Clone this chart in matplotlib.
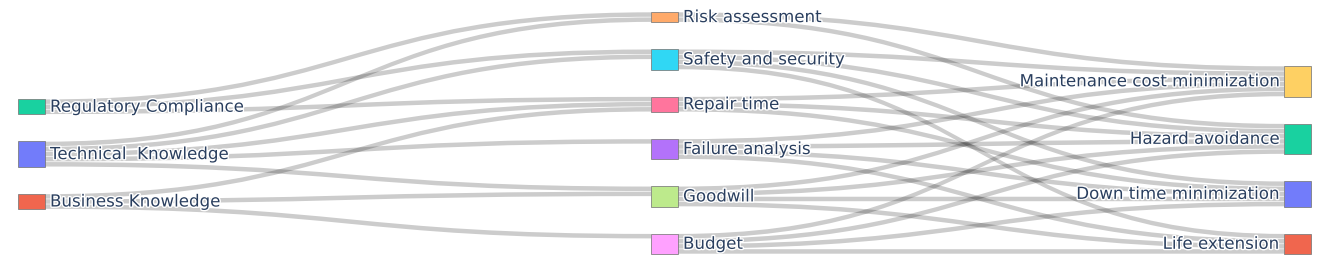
"""Sankey: knowledge areas -> maintenance criteria -> objectives"""

import matplotlib.pyplot as plt
import matplotlib.patheffects as pe
from matplotlib.path import Path
from matplotlib.patches import PathPatch, Rectangle

# node labels, one list per column
left_nodes = ["Regulatory Compliance", "Technical  Knowledge", "Business Knowledge"]
mid_nodes = ["Risk assessment", "Safety and security", "Repair time",
             "Failure analysis", "Goodwill", "Budget"]
right_nodes = ["Maintenance cost minimization", "Hazard avoidance",
               "Down time minimization", "Life extension"]

node_colors = ["#00cc96", "#636efa", "#EF553B",
               "#FFA15A", "#19d3f3", "#FF6692", "#ab63fa", "#B6E880", "#FF97FF",
               "#FECB52", "#00cc96", "#636efa", "#EF553B"]

# links (source label, target label, value)
link_source = [
    "Regulatory Compliance", "Regulatory Compliance", "Regulatory Compliance",
    "Technical  Knowledge", "Technical  Knowledge", "Technical  Knowledge",
    "Technical  Knowledge", "Technical  Knowledge",
    "Business Knowledge", "Business Knowledge", "Business Knowledge",
    "Risk assessment", "Risk assessment",
    "Safety and security", "Safety and security", "Safety and security", "Safety and security",
    "Repair time", "Repair time", "Repair time",
    "Failure analysis", "Failure analysis", "Failure analysis", "Failure analysis",
    "Goodwill", "Goodwill", "Goodwill", "Goodwill",
    "Budget", "Budget", "Budget", "Budget",
]
link_target = [
    "Risk assessment", "Safety and security", "Repair time",
    "Risk assessment", "Safety and security", "Repair time", "Failure analysis", "Goodwill",
    "Repair time", "Goodwill", "Budget",
    "Maintenance cost minimization", "Hazard avoidance",
    "Maintenance cost minimization", "Hazard avoidance", "Down time minimization", "Life extension",
    "Maintenance cost minimization", "Hazard avoidance", "Down time minimization",
    "Maintenance cost minimization", "Hazard avoidance", "Down time minimization", "Life extension",
    "Maintenance cost minimization", "Hazard avoidance", "Down time minimization", "Life extension",
    "Maintenance cost minimization", "Hazard avoidance", "Down time minimization", "Life extension",
]
link_value = [1] * len(link_source)

# ---- layout (pixels) ----
W, H = 1325, 276
x_left, x_right = 18, 1311
node_w = 27
top, bottom = 12, 254
pad = 27
col_align = [0.66, 0.0, 1.0]   # share of free space above each column

columns = [left_nodes, mid_nodes, right_nodes]
names = left_nodes + mid_nodes + right_nodes
idx = {n: i for i, n in enumerate(names)}
col_of = {}
for c, col in enumerate(columns):
    for n in col:
        col_of[n] = c

inflow = {n: 0 for n in names}
outflow = {n: 0 for n in names}
for s, t, v in zip(link_source, link_target, link_value):
    outflow[s] += v
    inflow[t] += v
node_val = {n: max(inflow[n], outflow[n]) for n in names}

ky = min((bottom - top - (len(col) - 1) * pad) / sum(node_val[n] for n in col)
         for col in columns)

node_x, node_y0, node_y1 = {}, {}, {}
for c, col in enumerate(columns):
    total = sum(node_val[n] for n in col) * ky + (len(col) - 1) * pad
    y = top + col_align[c] * (bottom - top - total)
    for n in col:
        node_x[n] = x_left + c * (x_right - node_w - x_left) / 2
        node_y0[n] = y
        node_y1[n] = y + node_val[n] * ky
        y = node_y1[n] + pad

# stacking of link ends on each node
links = list(zip(link_source, link_target, link_value))
src_off, tgt_off = {}, {}
for n in names:
    outs = sorted([i for i, l in enumerate(links) if l[0] == n],
                  key=lambda i: node_y0[links[i][1]])
    y = node_y0[n]
    for i in outs:
        src_off[i] = y
        y += links[i][2] * ky
    ins = sorted([i for i, l in enumerate(links) if l[1] == n],
                 key=lambda i: node_y0[links[i][0]])
    y = node_y0[n]
    for i in ins:
        tgt_off[i] = y
        y += links[i][2] * ky

fig = plt.figure(figsize=(W / 100, H / 100), dpi=100)
ax = fig.add_axes([0, 0, 1, 1])
ax.set_xlim(0, W)
ax.set_ylim(H, 0)
ax.axis("off")

# links
shrink = 0.3
for i, (s, t, v) in enumerate(links):
    xs = node_x[s] + node_w
    xt = node_x[t]
    xm = (xs + xt) / 2
    ys0, ys1 = src_off[i] + shrink, src_off[i] + v * ky - shrink
    yt0, yt1 = tgt_off[i] + shrink, tgt_off[i] + v * ky - shrink
    verts = [(xs, ys0), (xm, ys0), (xm, yt0), (xt, yt0),
             (xt, yt1), (xm, yt1), (xm, ys1), (xs, ys1), (xs, ys0)]
    codes = [Path.MOVETO, Path.CURVE4, Path.CURVE4, Path.CURVE4,
             Path.LINETO, Path.CURVE4, Path.CURVE4, Path.CURVE4, Path.CLOSEPOLY]
    ax.add_patch(PathPatch(Path(verts, codes), facecolor=(0, 0, 0, 0.2),
                           edgecolor="none", zorder=1))

# nodes and labels
for n in names:
    c = col_of[n]
    ax.add_patch(Rectangle((node_x[n], node_y0[n]), node_w, node_y1[n] - node_y0[n],
                           facecolor=node_colors[idx[n]], edgecolor="#777777",
                           lw=0.6, alpha=0.9, zorder=2))
    yc = (node_y0[n] + node_y1[n]) / 2
    if c < 2:
        tx, ha = node_x[n] + node_w + 5, "left"
    else:
        tx, ha = node_x[n] - 5, "right"
    ax.text(tx, yc, n, ha=ha, va="center", fontsize=12, color="#2a3f5f",
            family="DejaVu Sans", zorder=3,
            path_effects=[pe.withStroke(linewidth=2, foreground="white")])

fig.savefig("out.png", dpi=100)
